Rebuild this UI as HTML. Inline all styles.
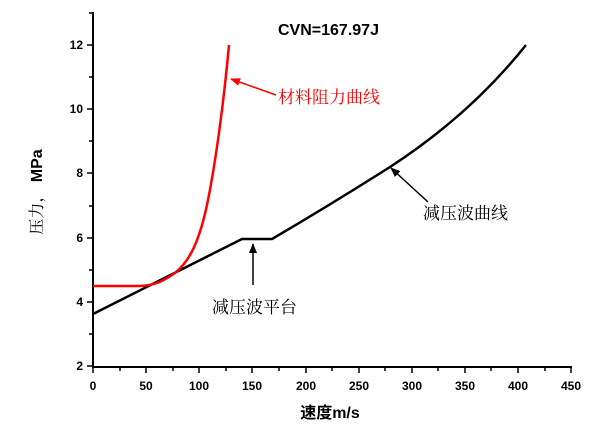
<!DOCTYPE html>
<html><head><meta charset="utf-8"><style>
body{margin:0;background:#fff}
</style></head><body>
<svg width="600" height="436" xmlns="http://www.w3.org/2000/svg" font-family="Liberation Sans, Noto Sans CJK SC, sans-serif">
<defs><marker id="a" markerWidth="10" markerHeight="8" refX="9" refY="4" orient="auto" markerUnits="userSpaceOnUse"><path d="M0,0 L10,4 L0,8 z" fill="#000"/></marker>
<marker id="r" markerWidth="10" markerHeight="8" refX="9" refY="4" orient="auto" markerUnits="userSpaceOnUse"><path d="M0,0 L10,4 L0,8 z" fill="#f00"/></marker></defs>
<g stroke="#000" stroke-width="2" fill="none">
<path d="M93,12 V367 H572"/>
<g stroke-width="1.5">
<path d="M93,366h-6M93,302h-6M93,238h-6M93,173h-6M93,109h-6M93,45h-6"/>
<path d="M93,334h-4M93,270h-4M93,206h-4M93,141h-4M93,77h-4M93,13h-4"/>
<path d="M93,367v6M146,367v6M199,367v6M252,367v6M306,367v6M359,367v6M412,367v6M465,367v6M518,367v6M571,367v6"/>
<path d="M120,367v4M173,367v4M226,367v4M279,367v4M332,367v4M385,367v4M438,367v4M491,367v4M545,367v4"/>
</g>
</g>
<g font-size="12" font-weight="bold" text-anchor="end">
<text x="83" y="370">2</text><text x="83" y="306">4</text><text x="83" y="242">6</text><text x="83" y="177">8</text><text x="83" y="113">10</text><text x="83" y="49">12</text>
</g>
<g font-size="12" font-weight="bold" text-anchor="middle">
<text x="93" y="390">0</text><text x="146" y="390">50</text><text x="199" y="390">100</text><text x="252" y="390">150</text><text x="306" y="390">200</text><text x="359" y="390">250</text><text x="412" y="390">300</text><text x="465" y="390">350</text><text x="518" y="390">400</text><text x="571" y="390">450</text>
</g>
<path d="M93,314 L242,239 L272,239 Q330,205 390,167 Q470,115 526,45" stroke="#000" stroke-width="2.5" fill="none"/>
<path d="M93,286 L138,286 C155,286 165,280 175,273 C190,261 200,240 208,200 C216,160 224,100 229,45" stroke="#f00" stroke-width="2.5" fill="none"/>
<line x1="276" y1="95" x2="231" y2="79" stroke="#f00" stroke-width="1.5" marker-end="url(#r)"/>
<line x1="253" y1="285" x2="253" y2="244" stroke="#000" stroke-width="1.5" marker-end="url(#a)"/>
<line x1="428" y1="202" x2="391" y2="168" stroke="#000" stroke-width="1.5" marker-end="url(#a)"/>
<text x="278" y="35" font-size="16" font-weight="bold">CVN=167.97J</text>
<text x="278" y="103" font-size="17" fill="#f00" font-family="Noto Serif CJK SC, serif">材料阻力曲线</text>
<text x="212" y="313" font-size="17" font-family="Noto Serif CJK SC, serif">减压波平台</text>
<text x="423" y="219" font-size="17" font-family="Noto Serif CJK SC, serif">减压波曲线</text>
<text x="330" y="418" font-size="16" font-weight="bold" text-anchor="middle">速度m/s</text>
<text transform="translate(42,192) rotate(-90)" font-size="16" text-anchor="middle"><tspan font-family="Noto Serif CJK SC, serif">压力，</tspan><tspan font-weight="bold"> MPa</tspan></text>
</svg>
</body></html>
